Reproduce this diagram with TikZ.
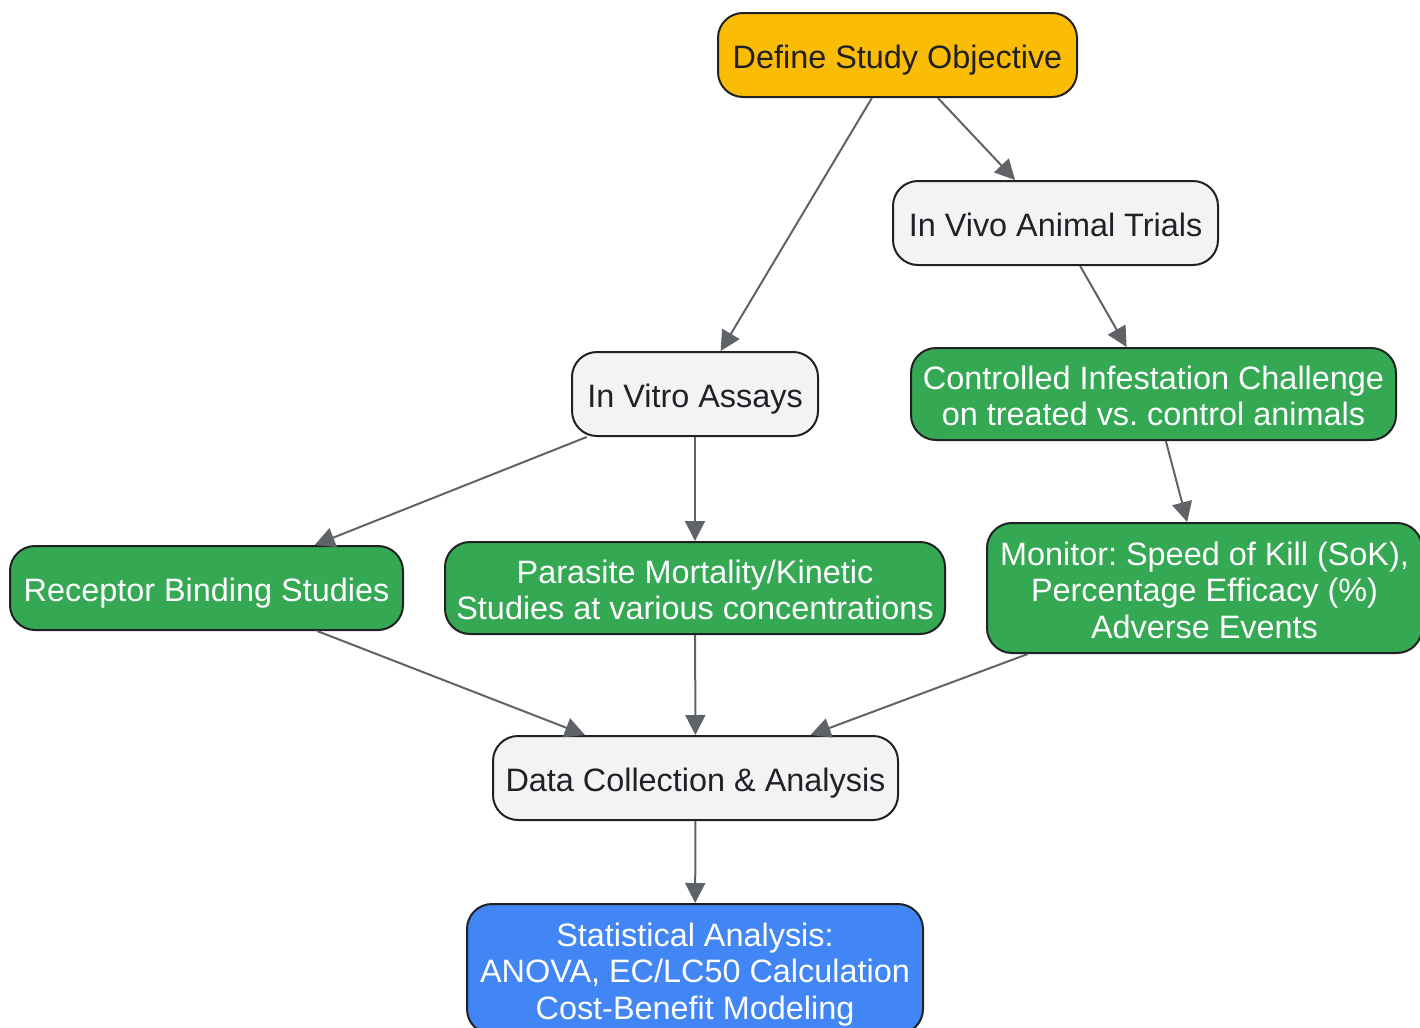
\documentclass[tikz,border=0pt]{standalone}
\usepackage{fontspec}
\setmainfont{Liberation Sans}
\usetikzlibrary{arrows.meta}
\definecolor{objyellow}{HTML}{FBBC05}
\definecolor{stepgreen}{HTML}{34A853}
\definecolor{statblue}{HTML}{4285F4}
\definecolor{phasegray}{HTML}{F1F3F4}
\definecolor{edgegray}{HTML}{5F6368}
\definecolor{inkdark}{HTML}{202124}
\newcommand{\boxstrut}[1]{\rule[-3.5pt]{0pt}{#1}}
\frenchspacing
\begin{document}
\begin{tikzpicture}[x=0.5pt,y=-0.5pt,
  box/.style={draw=inkdark,line width=1pt,rounded corners=12.5pt,align=center,
    inner sep=0pt,font=\fontsize{16.2}{18.2}\selectfont},
  rows/.style={execute at end node={\boxstrut{#1}}},
  rows/.default=20.6pt,
  goal/.style={box,fill=objyellow,text=inkdark},
  phase/.style={box,fill=phasegray,text=inkdark},
  task/.style={box,fill=stepgreen,text=white},
  result/.style={box,fill=statblue,text=white},
  link/.style={draw=edgegray,line width=1pt,-{Triangle[length=10pt,width=10pt]}}]
  \useasboundingbox (0,0) rectangle (1420,1028);
  \node[goal,rows,minimum width=179.5pt,minimum height=42pt] (objective) at (897.5,55) {Define Study Objective};
  \node[phase,rows,minimum width=162.5pt,minimum height=42pt] (invivo) at (1055.5,223) {In Vivo Animal Trials};
  \node[phase,rows,minimum width=123pt,minimum height=42pt] (invitro) at (695,394) {In Vitro Assays};
  \node[task,rows=38.8pt,minimum width=242.5pt,minimum height=46pt] (challenge) at (1153.5,394)
    {Controlled Infestation Challenge\\on treated vs. control animals};
  \node[task,rows,minimum width=196.5pt,minimum height=42pt] (receptor) at (206.5,588) {Receptor Binding Studies};
  \node[task,rows=38.8pt,minimum width=250pt,minimum height=46pt] (mortality) at (695,588)
    {Parasite Mortality/Kinetic\\Studies at various concentrations};
  \node[task,rows=57pt,minimum width=217.5pt,minimum height=65pt] (monitor) at (1204.5,588)
    {Monitor: Speed of Kill (SoK),\\Percentage Efficacy (\%)\\Adverse Events};
  \node[phase,rows,minimum width=202.5pt,minimum height=42pt] (data) at (695.5,778) {Data Collection \& Analysis};
  \node[result,rows=57pt,minimum width=228pt,minimum height=65pt] (stats) at (695,969)
    {Statistical Analysis:\\ANOVA, EC/LC50 Calculation\\Cost-Benefit Modeling};
  \draw[link] (objective) -- (invitro);
  \draw[link] (objective) -- (invivo);
  \draw[link] (invivo) -- (challenge);
  \draw[link] (invitro) -- (receptor);
  \draw[link] (invitro) -- (mortality);
  \draw[link] (challenge) -- (monitor);
  \draw[link] (receptor) -- (data);
  \draw[link] (mortality) -- (data);
  \draw[link] (monitor) -- (data);
  \draw[link] (data) -- (stats);
\end{tikzpicture}
\end{document}
